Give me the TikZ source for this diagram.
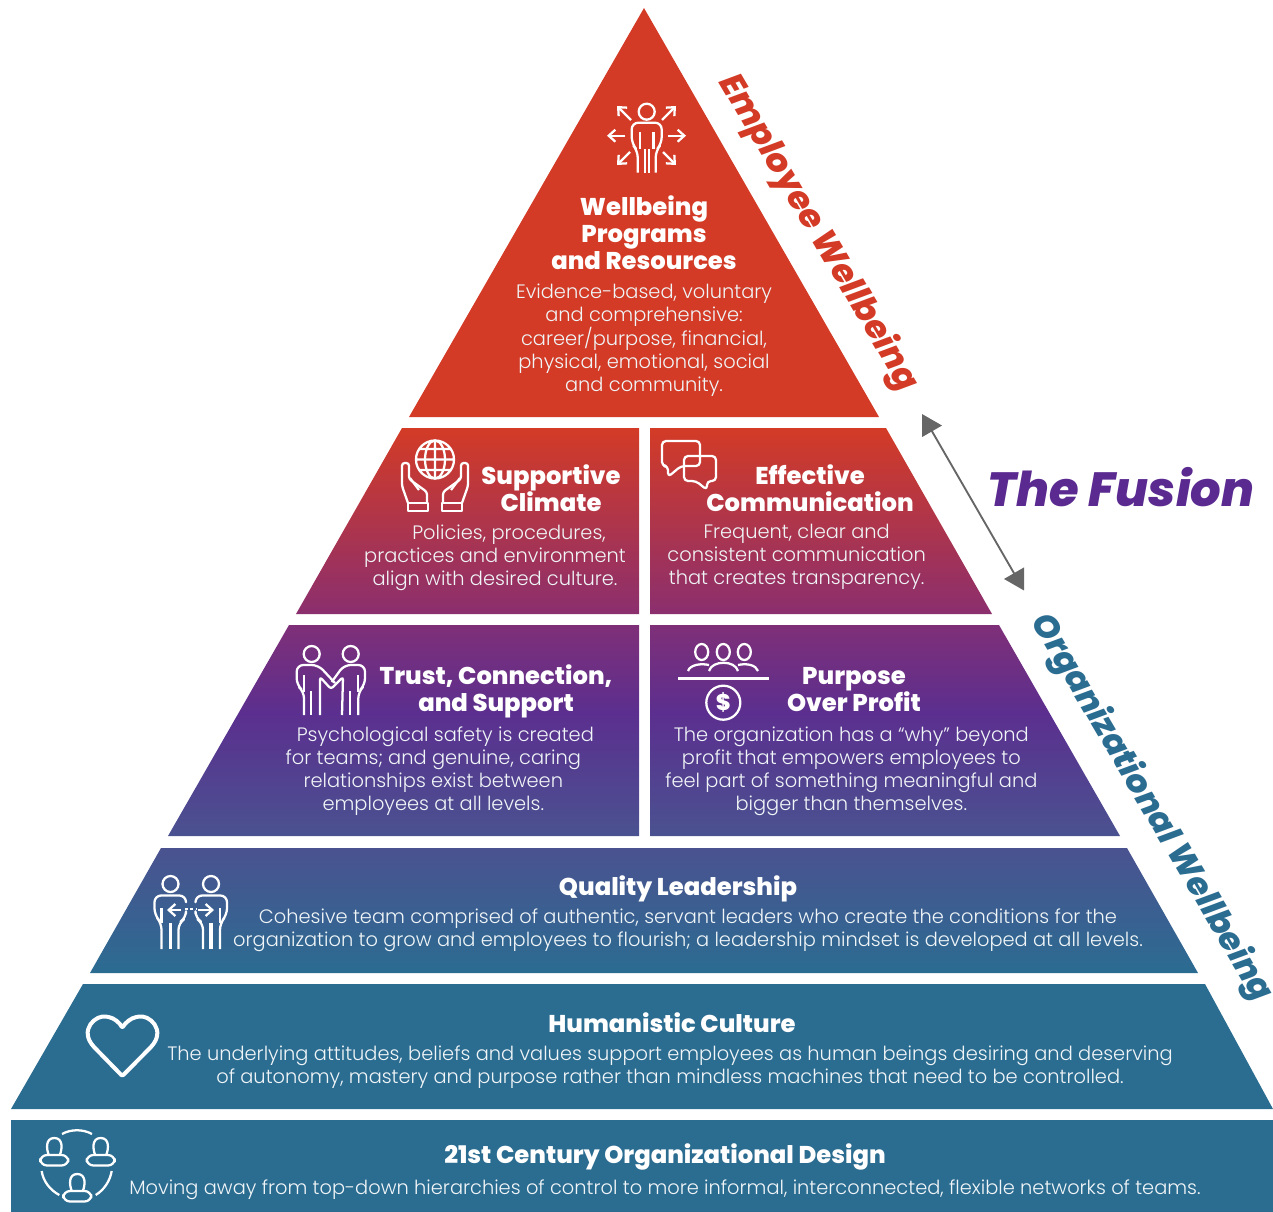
\documentclass[tikz,border=0pt]{standalone}
\usepackage{fontspec}
\setmainfont{Poppins}[UprightFont=* Light, BoldFont=* ExtraBold, BoldItalicFont=* ExtraBold Italic]
\usetikzlibrary{arrows,arrows.meta,positioning,shadings}
\definecolor{wellred}{HTML}{D33B26}
\definecolor{wellrose}{HTML}{8B2F6E}
\definecolor{wellplum}{HTML}{7F2F78}
\definecolor{wellpurple}{HTML}{5B2F8F}
\definecolor{wellslate}{HTML}{4A5290}
\definecolor{wellblue}{HTML}{2B6C91}
\definecolor{fusionpurple}{HTML}{5A2A90}
\pgfdeclareverticalshading{plumband}{100bp}{color(0bp)=(wellslate); color(25bp)=(wellslate); color(54bp)=(wellpurple); color(75bp)=(wellplum); color(100bp)=(wellplum)}
\tikzstyle{title} = [inner sep=0pt, text=white, align=center, font=\fontsize{18.2}{20.25}\selectfont\bfseries]
\tikzstyle{body} = [inner sep=0pt, text=white!93!wellblue, align=center, font=\fontsize{14.55}{17.25}\selectfont]
\tikzstyle{side} = [inner sep=0pt, rotate=-59.5, font=\fontsize{25.5}{30}\selectfont\bfseries\itshape]
\tikzstyle{icon} = [draw=white, line width=1.7pt, line join=round]
\tikzstyle{ray} = [icon, -{Straight Barb[length=5pt, width=9pt]}]
\tikzstyle{line} = [draw, {Triangle[length=15pt, width=17pt]}-{Triangle[length=15pt, width=17pt]}, line width=1.4pt, color=black!60]
\tikzset{
    person/.pic={
        \draw [icon] (0,0) circle [radius=8];
        \draw [icon, rounded corners=5pt] (-9,61) -- (-9,39) -- (-15,32) -- (-15,11) -- (15,11) -- (15,32) -- (9,39) -- (9,61);
    },
    leader/.pic={
        \draw [icon] (0,0) circle [radius=8];
        \draw [icon, rounded corners=5pt] (-9,65) -- (-9,39) -- (-16,31) -- (-16,11.5) -- (15.5,11.5) -- (15.5,18);
        \draw [icon, rounded corners=5pt] (15.5,30) -- (15.5,34) -- (8,39) -- (8,65);
        \draw [icon] (-9,24) -- (-9,39);
        \draw [icon, line width=2.6pt] (0,39) -- (0,65);
    },
    bust/.pic={
        \draw [icon] (-5.5,0) .. controls (-8,-6) and (-9,-17) .. (0,-17) .. controls (9,-17) and (8,-6) .. (5.5,0);
        \draw [icon, rounded corners=5pt] (-14,0) rectangle (14,10.5);
    },
    seated/.pic={
        \draw [icon] (0,0) ellipse [x radius=6.5, y radius=8];
    },
}
\begin{document}
\begin{tikzpicture}[x=0.75pt, y=-0.75pt]
    \useasboundingbox (0,0) rectangle (1273,1212);
    \fill [wellred] (644,8) -- (879,417) -- (409,417) -- cycle;
    \shade [top color=wellred, bottom color=wellrose] (402,428) -- (639,428) -- (639,614) -- (296,614) -- cycle;
    \shade [top color=wellred, bottom color=wellrose] (650,428) -- (886,428) -- (992,614) -- (650,614) -- cycle;
    \shade [shading=plumband] (289,625) -- (639,625) -- (639,836) -- (168,836) -- cycle;
    \shade [shading=plumband] (650,625) -- (999,625) -- (1120,836) -- (650,836) -- cycle;
    \shade [top color=wellslate, bottom color=wellblue] (161,848) -- (1127,848) -- (1198,973) -- (90,973) -- cycle;
    \fill [wellblue] (83,984) -- (1205,984) -- (1273,1109) -- (11,1109) -- cycle;
    \fill [wellblue] (11,1120) rectangle (1273,1212);

    \node [title] (programs) at (644,233) {Wellbeing\\Programs\\and Resources};
    \node [body, below=9.75pt of programs] (programstext) {Evidence-based, voluntary\\and comprehensive:\\career/purpose, financial,\\physical, emotional, social\\and community.};
    \node [title] (climate) at (551,488.5) {Supportive\\Climate};
    \node [body, below=9pt of climate, xshift=-42pt] (climatetext) {\hspace*{21pt}Policies, procedures,\\practices and environment\\align with desired culture.};
    \node [title] (communication) at (810,488.5) {Effective\\Communication};
    \node [body, below=9pt of communication, xshift=-10pt] (communicationtext) {Frequent, clear and\\consistent communication\\that creates transparency.};
    \node [title] (trust) at (496,691) {Trust, Connection,\\and Support};
    \node [body, below=6.75pt of trust, xshift=-47pt] (trusttext) {\hspace*{18pt}Psychological safety is created\\for teams; and genuine, caring\\relationships exist between\\employees at all levels.};
    \node [title] (purpose) at (854,689.5) {Purpose\\Over Profit};
    \node [body, below=11.25pt of purpose, xshift=-2pt] (purposetext) {The organization has a “why” beyond\\profit that empowers employees to\\feel part of something meaningful and\\bigger than themselves.};
    \node [title] (leadership) at (678,889) {Quality Leadership};
    \node [body, below=4.5pt of leadership, xshift=7.5pt] (leadershiptext) {Cohesive team comprised of authentic, servant leaders who create the conditions for the\\organization to grow and employees to flourish; a leadership mindset is developed at all levels.};
    \node [title] (culture) at (672,1023) {Humanistic Culture};
    \node [body, below=9pt of culture, xshift=-1.5pt] (culturetext) {The underlying attitudes, beliefs and values support employees as human beings desiring and deserving\\of autonomy, mastery and purpose rather than mindless machines that need to be controlled.};
    \node [title] (design) at (665,1157) {21st Century Organizational Design};
    \node [body, below=7pt of design] (designtext) {Moving away from top-down hierarchies of control to more informal, interconnected, flexible networks of teams.};

    \node [side, text=wellred] (employee) at (818,233) {Employee Wellbeing};
    \node [side, text=wellblue, font=\fontsize{25}{30}\selectfont\bfseries\itshape] (organizational) at (1151,808) {Organizational Wellbeing};
    \node [inner sep=0pt, text=fusionpurple, font=\fontsize{36}{40}\selectfont\bfseries\itshape] (fusion) at (1121,487) {The Fusion};
    \coordinate (fusiontop) at (922,414);
    \coordinate (fusionbottom) at (1024,590.5);
    \path [line] (fusiontop) -- (fusionbottom);

    % programs icon
    \pic at (646.7,111.7) {person};
    \draw [icon] (640,132) -- (640,149) (653.4,132) -- (653.4,149) (644.7,149) -- (644.7,173) (648.7,149) -- (648.7,173);
    \draw [ray] (631,120) -- (617,106);
    \draw [ray] (662,120) -- (676,106);
    \draw [ray] (625,135.7) -- (607,135.7);
    \draw [ray] (668,135.7) -- (686,135.7);
    \draw [ray] (630,152) -- (617,165);
    \draw [ray] (663,152) -- (676,165);

    % climate icon
    \draw [icon] (435,459.5) circle [radius=19] (435,440.5) -- (435,478.5) (416,459.5) -- (454,459.5) (419,449) -- (451,449) (419,470) -- (451,470);
    \draw [icon] (435,459.5) ellipse [x radius=10, y radius=19];
    \draw [icon] (408,503) rectangle (428,511) (442,503) rectangle (462,511);
    \draw [icon, rounded corners=2pt] (408,503) -- (402,486) -- (402,463) -- (409,463) -- (409,479) -- (427,492) -- (427,503);
    \draw [icon, rounded corners=2pt] (462,503) -- (468,486) -- (468,463) -- (461,463) -- (461,479) -- (443,492) -- (443,503);
    \draw [icon] (410,478) -- (419,490) (460,478) -- (451,490);

    % communication icon
    \draw [icon, rounded corners=3pt] (662,441) -- (700,441) -- (700,466) -- (681,466) -- (668,477) -- (668,466) -- (662,466) -- cycle;
    \draw [icon, rounded corners=3pt] (684,456) -- (716,456) -- (716,481) -- (707,481) -- (707,490) -- (696,481) -- (684,481) -- cycle;

    % trust icon
    \draw [icon] (311.7,654) circle [radius=8] (350.7,654) circle [radius=8];
    \draw [icon, rounded corners=5pt] (304,715) -- (304,691.7) -- (296.7,685) -- (296.7,665) -- (318.3,665) -- (335,683);
    \draw [icon, rounded corners=5pt] (358.3,715) -- (358.3,691.7) -- (365,685) -- (365,665) -- (344,665) -- (331.7,682);
    \draw [icon, rounded corners=2pt] (320,715) -- (320,677) -- (331,689) -- (343,677) -- (342,715);
    \draw [icon] (311,691) -- (311,715) (350,691) -- (350,715) (304,675) -- (304,692) (358.3,675) -- (358.3,692);

    % purpose icon
    \pic at (701.7,652) {seated};
    \pic at (723.3,652) {seated};
    \pic at (744.3,652) {seated};
    \draw [icon] (688,671) .. controls (690,665) and (700,663) .. (709,665);
    \draw [icon] (709,671) .. controls (712,660) and (735,660) .. (738,671);
    \draw [icon] (738,665) .. controls (747,663) and (756,665) .. (758,671);
    \draw [icon, line width=2.2pt] (678,678.5) -- (769,678.5);
    \draw [icon] (723.3,702.7) circle [radius=17];
    \node [inner sep=0pt, text=white, font=\fontsize{17}{20}\selectfont\bfseries] (dollar) at (723.3,702.7) {\$};

    % leadership icon
    \pic at (170.5,884) {leader};
    \pic [xscale=-1] at (211,884) {leader};
    \draw [ray] (181,910) -- (167,910);
    \draw [ray] (198,910) -- (214,910);
    \draw [icon, dash pattern=on 2pt off 2pt] (185,909) -- (196,909);

    % culture icon
    \draw [icon, line width=3pt, rounded corners=1pt] (122.3,1076) -- (95,1048) .. controls (78,1030) and (96,1014) .. (108,1017) .. controls (114,1018) and (120,1023) .. (122.3,1028) .. controls (125,1023) and (131,1018) .. (137,1017) .. controls (149,1014) and (167,1030) .. (150,1048) -- cycle;

    % design icon
    \pic at (54.3,1155) {bust};
    \pic at (100.7,1155) {bust};
    \pic at (77.3,1191) {bust};
    \draw [icon] (62,1134) .. controls (71,1129) and (83,1129) .. (92,1134);
    \draw [icon] (41.7,1171) .. controls (43,1181) and (50,1190) .. (59.3,1195);
    \draw [icon] (111.7,1171) .. controls (110,1181) and (104,1190) .. (95.7,1195);
\end{tikzpicture}
\end{document}
